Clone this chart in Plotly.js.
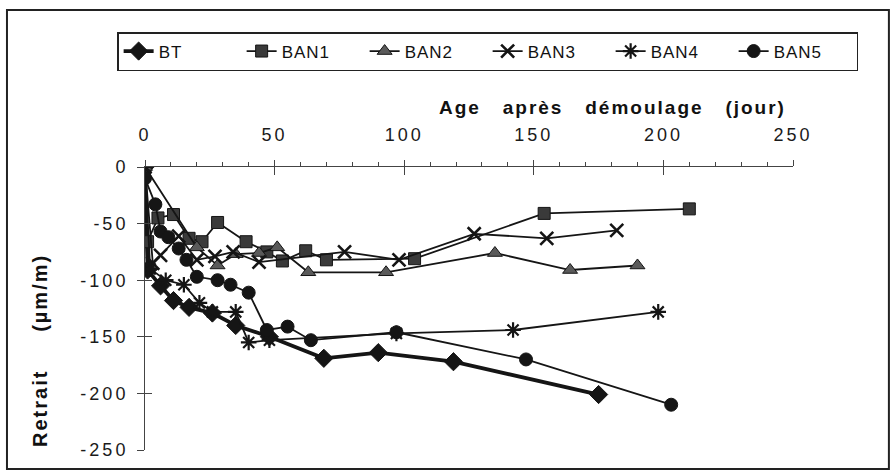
<!DOCTYPE html>
<html>
<head>
<meta charset="utf-8">
<script src="https://cdn.plot.ly/plotly-3.0.1.min.js"></script>
<style>
  html, body { margin: 0; padding: 0; background: #fff; }
  #chart { width: 893px; height: 472px; }
  /* wide typewriter-like spacing of the printed figure */
  #chart .xtick text, #chart .ytick text { letter-spacing: 3px; }
  #chart .legendtext { letter-spacing: 1px; }
  #chart .annotation-text { letter-spacing: 2px; }
</style>
</head>
<body>
<div id="chart"></div>
<script>
// Shrinkage (µm/m) versus age after demoulding (days)
const btDays   = [0, 1, 6, 11, 17, 26, 35, 48, 69, 90, 119, 175];
const btVals   = [0, -91, -105, -118, -124, -129, -140, -150, -169, -164, -172, -201];

const ban1Days = [0, 1, 5, 11, 17, 22, 28, 39, 47, 53, 62, 70, 104, 154, 210];
const ban1Vals = [0, -66, -45, -42, -63, -66, -49, -66, -75, -83, -74, -82, -81, -41, -37];

const ban2Days = [0, 20, 28, 35, 44, 51, 63, 93, 135, 164, 190];
const ban2Vals = [0, -71, -87, -77, -76, -71, -93, -93, -76, -91, -87];

const ban3Days = [0, 3, 6, 13, 20, 27, 34, 44, 77, 98, 127, 155, 182];
const ban3Vals = [0, -85, -78, -61, -82, -79, -75, -84, -75, -82, -59, -63, -56];

const ban4Days = [0, 2, 8, 15, 21, 26, 35, 40, 48, 97, 142, 198];
const ban4Vals = [0, -90, -100, -104, -120, -128, -128, -155, -153, -147, -144, -128];

const ban5Days = [0, 4, 6, 9, 13, 16, 20, 28, 33, 40, 47, 55, 64, 97, 147, 203];
const ban5Vals = [-10, -33, -57, -62, -72, -82, -97, -100, -104, -111, -144, -141, -153, -146, -170, -210];

const xTickVals = [0, 50, 100, 150, 200, 250];
const xMinorVals = [10, 20, 30, 40, 60, 70, 80, 90, 110, 120, 130, 140, 160, 170, 180, 190, 210, 220, 230, 240];
const yTickVals = [0, -50, -100, -150, -200, -250];
const yTickText = ['0', '-50', '-100', '-150', '-200', '-250'];

const FONT = 'Liberation Sans, Arial, Helvetica, sans-serif';
const INK = '#151515';

function series(name, x, y, symbol, markerColor, lineWidth, size, edge) {
  return {
    name: name, x: x, y: y, type: 'scatter', mode: 'lines+markers',
    line: { color: INK, width: lineWidth },
    marker: { symbol: symbol, size: size, color: markerColor,
              line: { color: INK, width: edge } }
  };
}

const traces = [
  series('BT',   btDays,   btVals,   'diamond',       INK,       3.8, 14, 1),
  series('BAN1', ban1Days, ban1Vals, 'square',        '#3a3a3a', 1.8, 12, 1),
  series('BAN2', ban2Days, ban2Vals, 'triangle-up',   '#5a5a5a', 1.8, 13, 1),
  series('BAN3', ban3Days, ban3Vals, 'x-thin-open',   INK,       1.8, 13, 2.6),
  series('BAN4', ban4Days, ban4Vals, 'asterisk-open', INK,       1.8, 13, 2.2),
  series('BAN5', ban5Days, ban5Vals, 'circle',        INK,       1.8, 13, 1)
];

const nb = '\u00a0';
const gap3 = nb + nb + nb;

const layout = {
  width: 893, height: 472,
  margin: { l: 145, r: 100, t: 167, b: 22 },
  paper_bgcolor: '#fff', plot_bgcolor: '#fff',
  font: { family: FONT, color: '#1a1a1a', size: 17 },
  showlegend: true,
  legend: {
    orientation: 'h', x: -0.043, xanchor: 'left', y: 1.477, yanchor: 'top',
    bordercolor: '#222', borderwidth: 1.5, bgcolor: '#fff',
    font: { family: FONT, size: 17, color: '#111' },
    entrywidth: 78, entrywidthmode: 'pixels', traceorder: 'normal',
    tracegroupgap: 0
  },
  xaxis: {
    range: [0, 250], side: 'top', tickvals: xTickVals,
    showline: true, linecolor: '#444', linewidth: 1,
    ticks: 'outside', ticklen: 6, tickcolor: '#444', tickwidth: 1,
    minor: { tickvals: xMinorVals, ticks: 'outside', ticklen: 4, tickcolor: '#444' },
    ticklabelstandoff: 12,
    showgrid: false, zeroline: false,
    tickfont: { family: FONT, size: 18, color: '#1a1a1a' }
  },
  xaxis2: {
    range: [0, 250], overlaying: 'x', side: 'top', tickvals: xTickVals,
    ticks: 'inside', ticklen: 8, tickcolor: '#444', showticklabels: false,
    showgrid: false, zeroline: false, showline: false
  },
  yaxis: {
    range: [-250, 0], tickvals: yTickVals, ticktext: yTickText,
    showline: true, linecolor: '#444', linewidth: 1,
    ticks: 'outside', ticklen: 7, tickcolor: '#444', tickwidth: 1,
    ticklabelstandoff: 5,
    showgrid: false, zeroline: false,
    tickfont: { family: FONT, size: 18, color: '#1a1a1a' }
  },
  yaxis2: {
    range: [-250, 0], overlaying: 'y', tickvals: yTickVals,
    ticks: 'inside', ticklen: 7, tickcolor: '#444', showticklabels: false,
    showgrid: false, zeroline: false, showline: false
  },
  annotations: [
    { text: '<b>Age' + gap3 + 'après' + gap3 + 'démoulage' + gap3 + '(jour)</b>',
      xref: 'paper', yref: 'paper', x: 0.721, y: 1.212,
      xanchor: 'center', yanchor: 'middle', showarrow: false,
      font: { family: FONT, size: 19, color: '#111' } },
    { text: '<b>Retrait' + nb + nb + nb + nb + nb + '(µm/m)</b>',
      xref: 'paper', yref: 'paper', x: -0.162, y: 0.35, textangle: -90,
      xanchor: 'center', yanchor: 'middle', showarrow: false,
      font: { family: FONT, size: 20, color: '#111' } }
  ],
  shapes: [
    { type: 'rect', xref: 'paper', yref: 'paper',
      x0: -0.213, x1: 1.148, y0: -0.067, y1: 1.555,
      line: { color: '#222', width: 2 }, fillcolor: 'rgba(0,0,0,0)', layer: 'below' }
  ]
};

// invisible helper traces so the crossing tick overlays are laid out
const helpers = [
  { x: [0], y: [0], xaxis: 'x2', yaxis: 'y', type: 'scatter', mode: 'markers',
    marker: { opacity: 0 }, showlegend: false, hoverinfo: 'skip' },
  { x: [0], y: [0], xaxis: 'x', yaxis: 'y2', type: 'scatter', mode: 'markers',
    marker: { opacity: 0 }, showlegend: false, hoverinfo: 'skip' }
];

Plotly.newPlot('chart', helpers.concat(traces), layout, { staticPlot: true });
</script>
</body>
</html>
